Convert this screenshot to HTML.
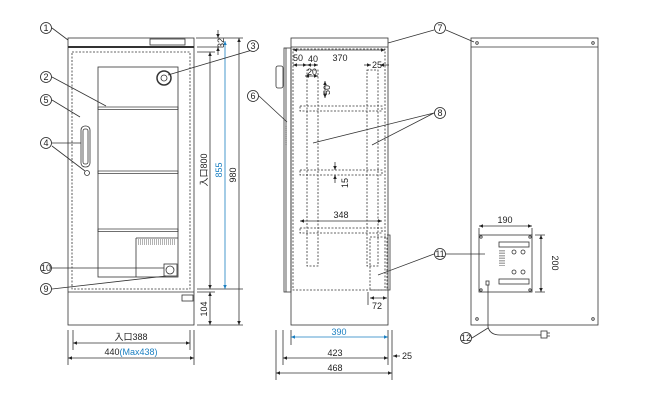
<!DOCTYPE html>
<html><head><meta charset="utf-8"><style>
html,body{margin:0;padding:0;background:#fff;}
svg{display:block;font-family:"Liberation Sans","Noto Sans CJK JP",sans-serif;}
text{font-size:9px;fill:#222;}
.b{fill:#1a7fc1;}
</style></head><body>
<svg width="658" height="405" viewBox="0 0 658 405" xmlns="http://www.w3.org/2000/svg">
<defs>
<marker id="a" markerWidth="6" markerHeight="6" refX="5" refY="3" orient="auto-start-reverse"><path d="M0,0.8 L5,3 L0,5.2z" fill="#222"/></marker>
<marker id="ab" markerWidth="6" markerHeight="6" refX="5" refY="3" orient="auto-start-reverse"><path d="M0,0.8 L5,3 L0,5.2z" fill="#1a7fc1"/></marker>
<g id="c"><circle r="5.5" fill="#fff" stroke="#222" stroke-width="0.8"/></g>
</defs>
<g stroke="#333" stroke-width="0.8" fill="none">
<!-- FRONT -->
<rect x="68" y="38" width="126" height="287"/>
<line x1="68" y1="47" x2="194" y2="47" stroke-width="2"/>
<rect x="150" y="39" width="35" height="6"/>
<line x1="68" y1="292" x2="194" y2="292"/>
<rect x="72" y="52" width="118" height="237" stroke-dasharray="2,1.5"/>
<rect x="98" y="67" width="80" height="210"/>
<rect x="98" y="107" width="80" height="2.5" stroke-width="0.7"/>
<rect x="98" y="171" width="80" height="2.5" stroke-width="0.7"/>
<rect x="98" y="229" width="80" height="2.5" stroke-width="0.7"/>
<rect x="81" y="126" width="9" height="41" rx="4"/>
<rect x="83" y="129" width="5" height="35" rx="2"/>
<circle cx="87" cy="173" r="2.5"/>
<circle cx="164" cy="78" r="7" stroke-width="1.5"/><circle cx="164" cy="78" r="3"/>
<path d="M136,238 V277" />
<path d="M136,238 H178" />
<path d="M138,240 h38 M138,242 h38 M138,244 h38" stroke-dasharray="1,1"/>
<rect x="164" y="264" width="13" height="12"/><circle cx="170" cy="270" r="4"/>
<rect x="182" y="295" width="11" height="6"/>
<!-- front dims -->
<path d="M197,38 H222 M197,47 H222 M197,52 H215 M197,289 H243 M197,292 H215 M197,325 H243 M196,38 H243"/>
<line x1="218" y1="30" x2="218" y2="38" marker-end="url(#a)"/>
<line x1="218" y1="55" x2="218" y2="47" marker-end="url(#a)"/>
<line x1="210" y1="52" x2="210" y2="289" marker-start="url(#a)" marker-end="url(#a)"/>
<line x1="225" y1="41" x2="225" y2="289" stroke="#1a7fc1" marker-start="url(#ab)" marker-end="url(#ab)"/>
<line x1="239" y1="38" x2="239" y2="325" marker-start="url(#a)" marker-end="url(#a)"/>
<line x1="210" y1="292" x2="210" y2="325" marker-start="url(#a)" marker-end="url(#a)"/>
<path d="M68,330 V365 M194,330 V365 M73,330 V350 M190,330 V350"/>
<line x1="73" y1="343" x2="190" y2="343" marker-start="url(#a)" marker-end="url(#a)"/>
<line x1="68" y1="358" x2="194" y2="358" marker-start="url(#a)" marker-end="url(#a)"/>
<!-- leaders front -->
<path d="M52,28 L68,40 M52,77 L106,106 M52,100 L80,117 M52,143 L81,143 M52,146 L85,171 M52,268 L164,268 M52,289 L166,276 M259,48 L168,75"/>
<!-- SIDE -->
<rect x="291" y="38" width="97" height="287"/>
<line x1="291" y1="47" x2="388" y2="47"/>
<rect x="284" y="48" width="7" height="244"/>
<line x1="286" y1="48" x2="286" y2="292"/>
<rect x="276" y="66" width="7" height="22" rx="2"/>
<path d="M286,126 v20" stroke-dasharray="1,1"/>
<rect x="293" y="49" width="92" height="241" stroke-dasharray="2,1.5"/>
<rect x="300" y="106" width="82" height="5" stroke-dasharray="2,1.5"/>
<rect x="300" y="170" width="82" height="5" stroke-dasharray="2,1.5"/>
<rect x="300" y="228" width="82" height="5" stroke-dasharray="2,1.5"/>
<rect x="307" y="70" width="11" height="196" stroke-dasharray="2,1.5"/>
<rect x="367" y="70" width="11" height="196" stroke-dasharray="2,1.5"/>
<rect x="370" y="237" width="17" height="53" stroke-dasharray="2,1.5"/>
<path d="M387,235 h3 v55 h-3"/>
<line x1="293" y1="50" x2="385" y2="50" marker-start="url(#a)" marker-end="url(#a)"/>
<line x1="293" y1="65" x2="307" y2="65" marker-start="url(#a)" marker-end="url(#a)"/>
<line x1="307" y1="65" x2="318" y2="65" marker-start="url(#a)" marker-end="url(#a)"/>
<line x1="364" y1="65" x2="371" y2="65" marker-end="url(#a)"/>
<line x1="389" y1="65" x2="380" y2="65" marker-end="url(#a)"/>
<line x1="305" y1="76" x2="318" y2="76" marker-start="url(#a)" marker-end="url(#a)"/>
<line x1="325" y1="81" x2="325" y2="98" marker-start="url(#a)" marker-end="url(#a)"/>
<line x1="335" y1="162" x2="335" y2="170" marker-end="url(#a)"/>
<line x1="335" y1="183" x2="335" y2="175" marker-end="url(#a)"/>
<line x1="300" y1="221" x2="382" y2="221" marker-start="url(#a)" marker-end="url(#a)"/>
<line x1="370" y1="298" x2="387" y2="298" marker-start="url(#a)" marker-end="url(#a)"/>
<path d="M368,292 V305"/>
<path d="M276,330 V380 M283,330 V365 M291,330 V345 M388,330 V365 M392,330 V380"/>
<line x1="291" y1="337" x2="388" y2="337" stroke="#1a7fc1" marker-start="url(#ab)" marker-end="url(#ab)"/>
<line x1="283" y1="358" x2="388" y2="358" marker-start="url(#a)" marker-end="url(#a)"/>
<line x1="276" y1="373" x2="392" y2="373" marker-start="url(#a)" marker-end="url(#a)"/>
<line x1="400" y1="356" x2="393" y2="356" marker-end="url(#a)"/>
<path d="M259,96 L287,122 M434,30 L388,43 M434,113 L313,143 M434,113 L372,145 M434,254 L378,275"/>
<!-- BACK -->
<rect x="471" y="38" width="127" height="287"/>
<line x1="471" y1="47" x2="598" y2="47"/>
<circle cx="477" cy="43" r="1.3"/><circle cx="593" cy="43" r="1.3"/>
<circle cx="477" cy="319" r="1.3"/><circle cx="593" cy="319" r="1.3"/>
<path d="M446,30 L474,42"/>
<rect x="479" y="235" width="53" height="57"/>
<circle cx="481" cy="237" r="1.2"/><circle cx="530" cy="237" r="1.2"/><circle cx="481" cy="290" r="1.2"/><circle cx="530" cy="290" r="1.2"/>
<rect x="499" y="242" width="30" height="5"/>
<rect x="499" y="279" width="30" height="5"/>
<path d="M500,250 v16 M502,250 v16 M504,250 v16" stroke-dasharray="1.5,1"/>
<circle cx="514" cy="252" r="2"/><circle cx="523" cy="252" r="2"/>
<circle cx="514" cy="272" r="2"/><circle cx="523" cy="272" r="2"/>
<rect x="486" y="281" width="3" height="4"/>
<path d="M488,285 V327 Q490,335 500,335 H541"/>
<rect x="541" y="331" width="6" height="7"/><path d="M547,333 h3 M547,336 h3"/>
<path d="M472,338 L488,328"/>
<path d="M446,254 L485,254"/>
<path d="M479,228 V235 M532,228 V235 M535,235 H545 M535,292 H545"/>
<line x1="479" y1="226" x2="532" y2="226" marker-start="url(#a)" marker-end="url(#a)"/>
<line x1="541" y1="235" x2="541" y2="292" marker-start="url(#a)" marker-end="url(#a)"/>
</g>
<!-- circle labels -->
<g font-size="8">
<use href="#c" x="46" y="28"/><text x="46" y="31" text-anchor="middle" font-size="8">1</text>
<use href="#c" x="46" y="77"/><text x="46" y="80" text-anchor="middle" font-size="8">2</text>
<use href="#c" x="46" y="100"/><text x="46" y="103" text-anchor="middle" font-size="8">5</text>
<use href="#c" x="46" y="143"/><text x="46" y="146" text-anchor="middle" font-size="8">4</text>
<use href="#c" x="46" y="268"/><text x="46" y="271" text-anchor="middle" font-size="7">10</text>
<use href="#c" x="46" y="289"/><text x="46" y="292" text-anchor="middle" font-size="8">9</text>
<use href="#c" x="253" y="46"/><text x="253" y="49" text-anchor="middle" font-size="8">3</text>
<use href="#c" x="253" y="96"/><text x="253" y="99" text-anchor="middle" font-size="8">6</text>
<use href="#c" x="440" y="28"/><text x="440" y="31" text-anchor="middle" font-size="8">7</text>
<use href="#c" x="440" y="113"/><text x="440" y="116" text-anchor="middle" font-size="8">8</text>
<use href="#c" x="440" y="254"/><text x="440" y="257" text-anchor="middle" font-size="7">11</text>
<use href="#c" x="466" y="338"/><text x="466" y="341" text-anchor="middle" font-size="7">12</text>
</g>
<!-- dim texts -->
<text transform="translate(224,43) rotate(-90)" text-anchor="middle" font-size="8">32</text>
<text transform="translate(207,170) rotate(-90)" text-anchor="middle">入口800</text>
<text class="b" transform="translate(222,170) rotate(-90)" text-anchor="middle">855</text>
<text transform="translate(236,175) rotate(-90)" text-anchor="middle">980</text>
<text transform="translate(207,309) rotate(-90)" text-anchor="middle">104</text>
<text x="131" y="340" text-anchor="middle">入口388</text>
<text x="131" y="355" text-anchor="middle">440<tspan class="b">(Max438)</tspan></text>
<text x="340" y="61" text-anchor="middle">370</text>
<text x="298" y="61" text-anchor="middle">50</text>
<text x="313" y="62" text-anchor="middle" font-size="8">40</text>
<text x="377" y="68" text-anchor="middle" font-size="8">25</text>
<text x="312" y="75" text-anchor="middle" font-size="8">20</text>
<text transform="translate(330,90) rotate(-90)" text-anchor="middle" font-size="8">50</text>
<text transform="translate(348,183) rotate(-90)" text-anchor="middle" font-size="8">15</text>
<text x="341" y="218" text-anchor="middle">348</text>
<text x="377" y="309" text-anchor="middle">72</text>
<text class="b" x="339" y="335" text-anchor="middle">390</text>
<text x="335" y="356" text-anchor="middle">423</text>
<text x="335" y="371" text-anchor="middle">468</text>
<text x="402" y="359">25</text>
<text x="505" y="223" text-anchor="middle">190</text>
<text transform="translate(552,263) rotate(90)" text-anchor="middle">200</text>
</svg>
</body></html>
